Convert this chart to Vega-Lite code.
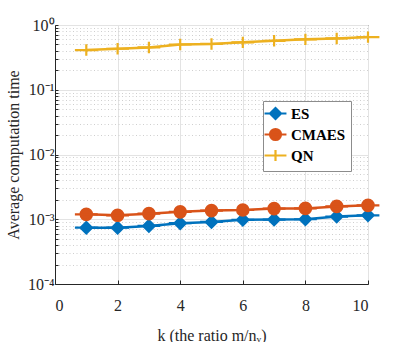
{
  "$schema": "https://vega.github.io/schema/vega-lite/v6.json",
  "width": 313,
  "height": 259,
  "autosize": "none",
  "padding": {"left": 55, "top": 25, "right": 39, "bottom": 58},
  "background": "white",
  "config": {
    "view": {"stroke": "#262626", "strokeWidth": 1},
    "font": "Liberation Serif",
    "axis": {
      "labelFont": "Liberation Serif",
      "titleFont": "Liberation Serif",
      "labelFontSize": 16,
      "titleFontSize": 16,
      "labelColor": "#262626",
      "titleColor": "#262626",
      "titleFontWeight": "normal",
      "domainColor": "#262626",
      "tickColor": "#262626",
      "gridColor": "#e3e3e3",
      "gridOpacity": 1
    },
    "legend": {
      "title": null,
      "orient": "none",
      "legendX": 208,
      "legendY": 76,
      "fillColor": "white",
      "strokeColor": "#8c8c8c",
      "padding": 5,
      "labelFont": "Liberation Serif",
      "labelFontWeight": "bold",
      "labelFontSize": 15,
      "labelColor": "#000000",
      "symbolSize": 120,
      "symbolStrokeWidth": 2.2,
      "symbolOpacity": 1,
      "rowPadding": 0,
      "labelOffset": 8,
      "labelLimit": 200
    }
  },
  "data": {
    "values": [
      {"k": 1, "series": "ES", "t": 0.00074},
      {"k": 2, "series": "ES", "t": 0.00074},
      {"k": 3, "series": "ES", "t": 0.00079},
      {"k": 4, "series": "ES", "t": 0.00087},
      {"k": 5, "series": "ES", "t": 0.00091},
      {"k": 6, "series": "ES", "t": 0.00098},
      {"k": 7, "series": "ES", "t": 0.00099},
      {"k": 8, "series": "ES", "t": 0.00100},
      {"k": 9, "series": "ES", "t": 0.00110},
      {"k": 10, "series": "ES", "t": 0.00115},
      {"k": 1, "series": "CMAES", "t": 0.00119},
      {"k": 2, "series": "CMAES", "t": 0.00115},
      {"k": 3, "series": "CMAES", "t": 0.00122},
      {"k": 4, "series": "CMAES", "t": 0.00130},
      {"k": 5, "series": "CMAES", "t": 0.00136},
      {"k": 6, "series": "CMAES", "t": 0.00139},
      {"k": 7, "series": "CMAES", "t": 0.00146},
      {"k": 8, "series": "CMAES", "t": 0.00147},
      {"k": 9, "series": "CMAES", "t": 0.00158},
      {"k": 10, "series": "CMAES", "t": 0.00164},
      {"k": 1, "series": "QN", "t": 0.41},
      {"k": 2, "series": "QN", "t": 0.43},
      {"k": 3, "series": "QN", "t": 0.45},
      {"k": 4, "series": "QN", "t": 0.50},
      {"k": 5, "series": "QN", "t": 0.51},
      {"k": 6, "series": "QN", "t": 0.54},
      {"k": 7, "series": "QN", "t": 0.57},
      {"k": 8, "series": "QN", "t": 0.60},
      {"k": 9, "series": "QN", "t": 0.62},
      {"k": 10, "series": "QN", "t": 0.65}
    ]
  },
  "encoding": {
    "x": {
      "field": "k",
      "type": "quantitative",
      "scale": {"domain": [0, 10], "nice": false},
      "axis": {
        "values": [0, 2, 4, 6, 8, 10],
        "title": "k (the ratio m/nᵥ)",
        "labelFont": "Liberation Serif",
        "tickSize": -4,
        "labelPadding": 17,
        "titlePadding": 14
      }
    },
    "y": {
      "field": "t",
      "type": "quantitative",
      "scale": {"type": "log", "domain": [0.0001, 1], "nice": false},
      "axis": {
        "values": [0.0001, 0.0002, 0.0003, 0.0004, 0.0005, 0.0006, 0.0007, 0.0008, 0.0009, 0.001, 0.002, 0.003, 0.004, 0.005, 0.006, 0.007, 0.008, 0.009, 0.01, 0.02, 0.03, 0.04, 0.05, 0.06, 0.07, 0.08, 0.09, 0.1, 0.2, 0.3, 0.4, 0.5, 0.6, 0.7, 0.8, 0.9, 1],
        "labelExpr": "abs(log(datum.value)/LN10 - round(log(datum.value)/LN10)) < 1e-6 ? '10' + ['⁰','⁻¹','⁻²','⁻³','⁻⁴'][-round(log(datum.value)/LN10)] : ''",
        "title": "Average computation time",
        "labelFont": "Liberation Serif",
        "tickSize": -3,
        "labelPadding": 4,
        "labelOverlap": false,
        "labelBound": false,
        "labelFlush": false,
        "gridDash": {"condition": {"test": "abs(log(datum.value)/LN10 - round(log(datum.value)/LN10)) > 1e-6", "value": [1, 2.5]}, "value": []},
        "gridColor": {"condition": {"test": "abs(log(datum.value)/LN10 - round(log(datum.value)/LN10)) > 1e-6", "value": "#cfcfcf"}, "value": "#e3e3e3"},
        "titlePadding": 6
      }
    }
  },
  "layer": [
    {
      "mark": {"type": "line", "strokeWidth": 2.5},
      "encoding": {
        "color": {
          "field": "series",
          "type": "nominal",
          "scale": {"domain": ["ES", "CMAES", "QN"], "range": ["#0072BD", "#D95319", "#EDB120"]},
          "legend": {}
        }
      }
    },
    {
      "mark": {"type": "point", "filled": true, "opacity": 1, "size": 130, "strokeWidth": 2.2},
      "encoding": {
        "color": {
          "field": "series",
          "type": "nominal",
          "scale": {"domain": ["ES", "CMAES", "QN"], "range": ["#0072BD", "#D95319", "#EDB120"]},
          "legend": {
            "encode": {
              "symbols": {"update": {"stroke": {"scale": "color", "field": "value"}, "strokeWidth": {"value": 2.2}}}
            }
          }
        },
        "stroke": {
          "field": "series",
          "type": "nominal",
          "scale": {"domain": ["ES", "CMAES", "QN"], "range": ["#0072BD", "#D95319", "#EDB120"]},
          "legend": null
        },
        "shape": {
          "field": "series",
          "type": "nominal",
          "scale": {
            "domain": ["ES", "CMAES", "QN"],
            "range": [
              "M-2,0H2M0,-1L1,0L0,1L-1,0Z",
              "M-2,0H2M-1,0A1,1 0 1,0 1,0A1,1 0 1,0 -1,0Z",
              "M-2,0H2M0,-1V1M-1,0H1"
            ]
          },
          "legend": null
        }
      }
    }
  ]
}
